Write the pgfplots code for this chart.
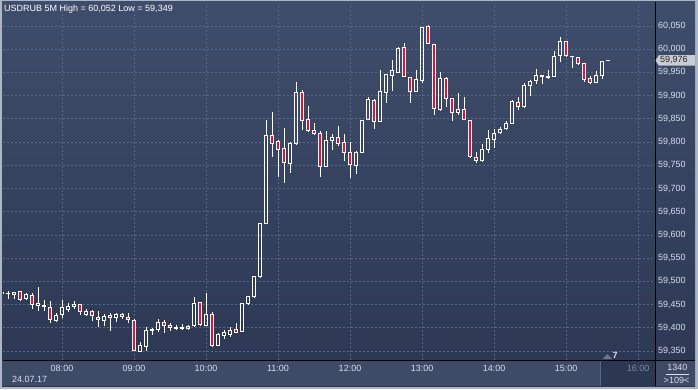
\documentclass[border=0pt]{standalone}
\usepackage{pgfplots}
\pgfplotsset{compat=1.18}
\usepackage{pgfplotstable}
\usepackage{fontspec}
\setmainfont{Liberation Sans}
\definecolor{framecol}{HTML}{AEB6C4}
\definecolor{bgtop}{HTML}{3F4D6C}
\definecolor{bgbot}{HTML}{2B3752}
\definecolor{stripcol}{HTML}{3E4B66}
\definecolor{futurecol}{HTML}{2C3751}
\definecolor{gridcol}{HTML}{56678A}
\definecolor{labcol}{HTML}{D5DFEE}
\definecolor{candred}{HTML}{DC143C}
\definecolor{markcol}{HTML}{C8CCD4}
\definecolor{futuretext}{HTML}{7E8BA3}

\pgfplotstableread{
i o h l c
0 59474 59477 59474 59477
1 59473 59479 59461 59475
2 59471 59477 59461 59477
3 59478 59479 59458 59462
4 59463 59474 59461 59472
5 59470 59474 59441 59451
6 59449 59488 59436 59452
7 59446 59459 59436 59449
8 59444 59457 59410 59419
9 59416 59432 59412 59427
10 59428 59459 59421 59444
11 59439 59454 59433 59446
12 59445 59457 59441 59451
13 59451 59452 59427 59436
14 59428 59441 59425 59436
15 59435 59438 59415 59426
16 59423 59436 59402 59418
17 59415 59429 59403 59425
18 59426 59431 59393 59422
19 59422 59431 59413 59428
20 59425 59432 59419 59428
21 59423 59431 59410 59418
22 59416 59419 59350 59352
23 59349 59369 59349 59362
24 59359 59402 59350 59395
25 59395 59399 59385 59396
26 59396 59418 59390 59411
27 59411 59416 59389 59405
28 59405 59410 59393 59400
29 59398 59405 59397 59400
30 59398 59409 59397 59400
31 59398 59405 59395 59403
32 59405 59467 59402 59452
33 59454 59456 59405 59407
34 59405 59475 59403 59429
35 59429 59434 59359 59362
36 59363 59388 59362 59386
37 59383 59396 59375 59389
38 59386 59402 59380 59395
39 59396 59411 59388 59390
40 59392 59454 59390 59452
41 59453 59469 59449 59467
42 59467 59512 59466 59511
43 59510 59625 59509 59625
44 59624 59847 59624 59815
45 59815 59864 59768 59798
46 59802 59804 59725 59784
47 59786 59831 59712 59757
48 59755 59800 59734 59798
49 59797 59929 59794 59907
50 59907 59912 59826 59846
51 59849 59877 59821 59824
52 59825 59841 59815 59818
53 59818 59823 59725 59747
54 59747 59823 59747 59803
55 59803 59817 59783 59810
56 59810 59834 59791 59796
57 59799 59818 59760 59777
58 59778 59800 59723 59752
59 59749 59781 59732 59778
60 59777 59847 59777 59846
61 59849 59896 59849 59892
62 59890 59892 59829 59845
63 59844 59955 59844 59909
64 59907 59946 59885 59946
65 59943 59976 59910 59954
66 59951 60005 59948 60002
67 60004 60014 59941 59941
68 59939 59941 59885 59909
69 59909 59955 59908 59935
70 59932 60048 59928 60047
71 60050 60052 60012 60012
72 60010 60011 59859 59872
73 59870 59951 59867 59937
74 59937 59941 59876 59894
75 59894 59895 59846 59864
76 59864 59905 59858 59870
77 59870 59896 59847 59849
78 59847 59847 59767 59768
79 59767 59779 59755 59761
80 59761 59795 59757 59784
81 59784 59827 59777 59808
82 59806 59829 59788 59818
83 59821 59833 59817 59827
84 59829 59846 59828 59840
85 59840 59890 59839 59888
86 59886 59897 59870 59876
87 59876 59928 59875 59922
88 59922 59933 59900 59931
89 59932 59958 59926 59943
90 59941 59943 59926 59943
91 59939 59955 59935 59941
92 59941 59997 59941 59985
93 59986 60027 59972 60017
94 60017 60018 59984 59986
95 59984 59985 59959 59985
96 59982 59983 59965 59969
97 59969 59969 59929 59935
98 59936 59943 59925 59928
99 59928 59952 59928 59943
100 59943 59975 59936 59974
101 59975 59976 59975 59976
}\candles

\pgfplotsset{
  candleaxis/.style={
    at={(3bp,29bp)}, anchor=south west,
    scale only axis, width=653bp, height=357bp,
    xmin=0.1667, xmax=109, ymin=59330.6, ymax=60099.5,
    enlargelimits=false,
  }
}

\begin{document}
\begin{tikzpicture}[x=1bp,y=1bp,font=\fontsize{9bp}{10bp}\selectfont]
\useasboundingbox (0,0) rectangle (698,389);
\fill[framecol] (0,0) rectangle (698,389);
\shade[top color=bgtop,bottom color=bgbot] (2,3) rectangle (695,387);
\fill[stripcol] (2,3) rectangle (656,29);
\fill[futurecol] (600,3) rectangle (656,29);
\draw[gridcol, line width=0.8bp] (600.5,3) -- (600.5,29);
\fill[stripcol] (656,3) rectangle (695,29);

\begin{axis}[
  candleaxis,
  axis line style={draw=none},
  xtick={10,22,34,46,58,70,82,94,106},
  xticklabels={08:00,09:00,10:00,11:00,12:00,13:00,14:00,15:00,\textcolor{futuretext}{16:00}},
  ytick={59350,59400,...,60050},
  scaled y ticks=false,
  yticklabel pos=right,
  major tick length=0pt,
  grid=major,
  major grid style={draw=gridcol, dash pattern=on 2bp off 2bp, line width=0.8bp},
  tick label style={font=\fontsize{9bp}{10bp}\selectfont, text=labcol, inner sep=0pt},
  yticklabel style={anchor=west, xshift=1.8bp},
  xticklabel style={anchor=north, yshift=-5bp},
  /pgf/number format/.cd, fixed, precision=0, 1000 sep={,}, assume math mode=true,
]
\addplot[draw=none, forget plot, error bars/.cd, y dir=plus, y explicit, error mark=none,
  error bar style={draw=white, line width=1bp}]
  table[x=i, y expr={max(\thisrow{o},\thisrow{c})}, y error plus expr={\thisrow{h}-max(\thisrow{o},\thisrow{c})}] {\candles};
\addplot[draw=none, forget plot, error bars/.cd, y dir=plus, y explicit, error mark=none,
  error bar style={draw=white, line width=1bp}]
  table[x=i, y=l, y error plus expr={min(\thisrow{o},\thisrow{c})-\thisrow{l}}] {\candles};
\end{axis}

\begin{axis}[
  candleaxis,
  hide axis,
  ybar stacked,
  bar width=3.4bp,
]
\addplot[draw=none, fill=none] table[x=i, y expr={min(\thisrow{o},\thisrow{c})}] {\candles};
\addplot[draw=white, fill=candred, line width=0.9bp] table[x=i, y expr={max(\thisrow{o}-\thisrow{c},0)}] {\candles};
\addplot[draw=white, fill=none, line width=0.9bp] table[x=i, y expr={max(\thisrow{c}-\thisrow{o},0)}] {\candles};
\end{axis}

\draw[black, line width=1bp] (655.8,3) -- (655.8,387);
\draw[black, line width=1bp] (3,29) -- (695,29);

\node[anchor=north west, inner sep=0pt, text=white] at (4,384.5) {USDRUB 5M High = 60,052 Low = 59,349};
\node[anchor=north west, inner sep=0pt, text=labcol] at (12,13.3) {24.07.17};

\fill[gridcol!90!white] (602.7,30) -- (612,30) -- (607.35,34.7) -- cycle;
\node[anchor=south west, inner sep=0pt, text=labcol, font=\fontsize{9bp}{10bp}\selectfont\bfseries] at (612.5,30) {7};

\fill[markcol] (655.5,328.6) -- (659,334) -- (695,334) -- (695,323.3) -- (659,323.3) -- cycle;
\node[anchor=west, inner sep=0pt, text=black!85] at (660,328.6) {59,976};

\node[inner sep=0pt, text=labcol] at (677.3,21.3) {1340};
\draw[labcol, line width=0.8bp] (666,15) -- (689,15);
\node[inner sep=0pt, text=labcol] at (676.5,8.2) {>109<};
\end{tikzpicture}
\end{document}
